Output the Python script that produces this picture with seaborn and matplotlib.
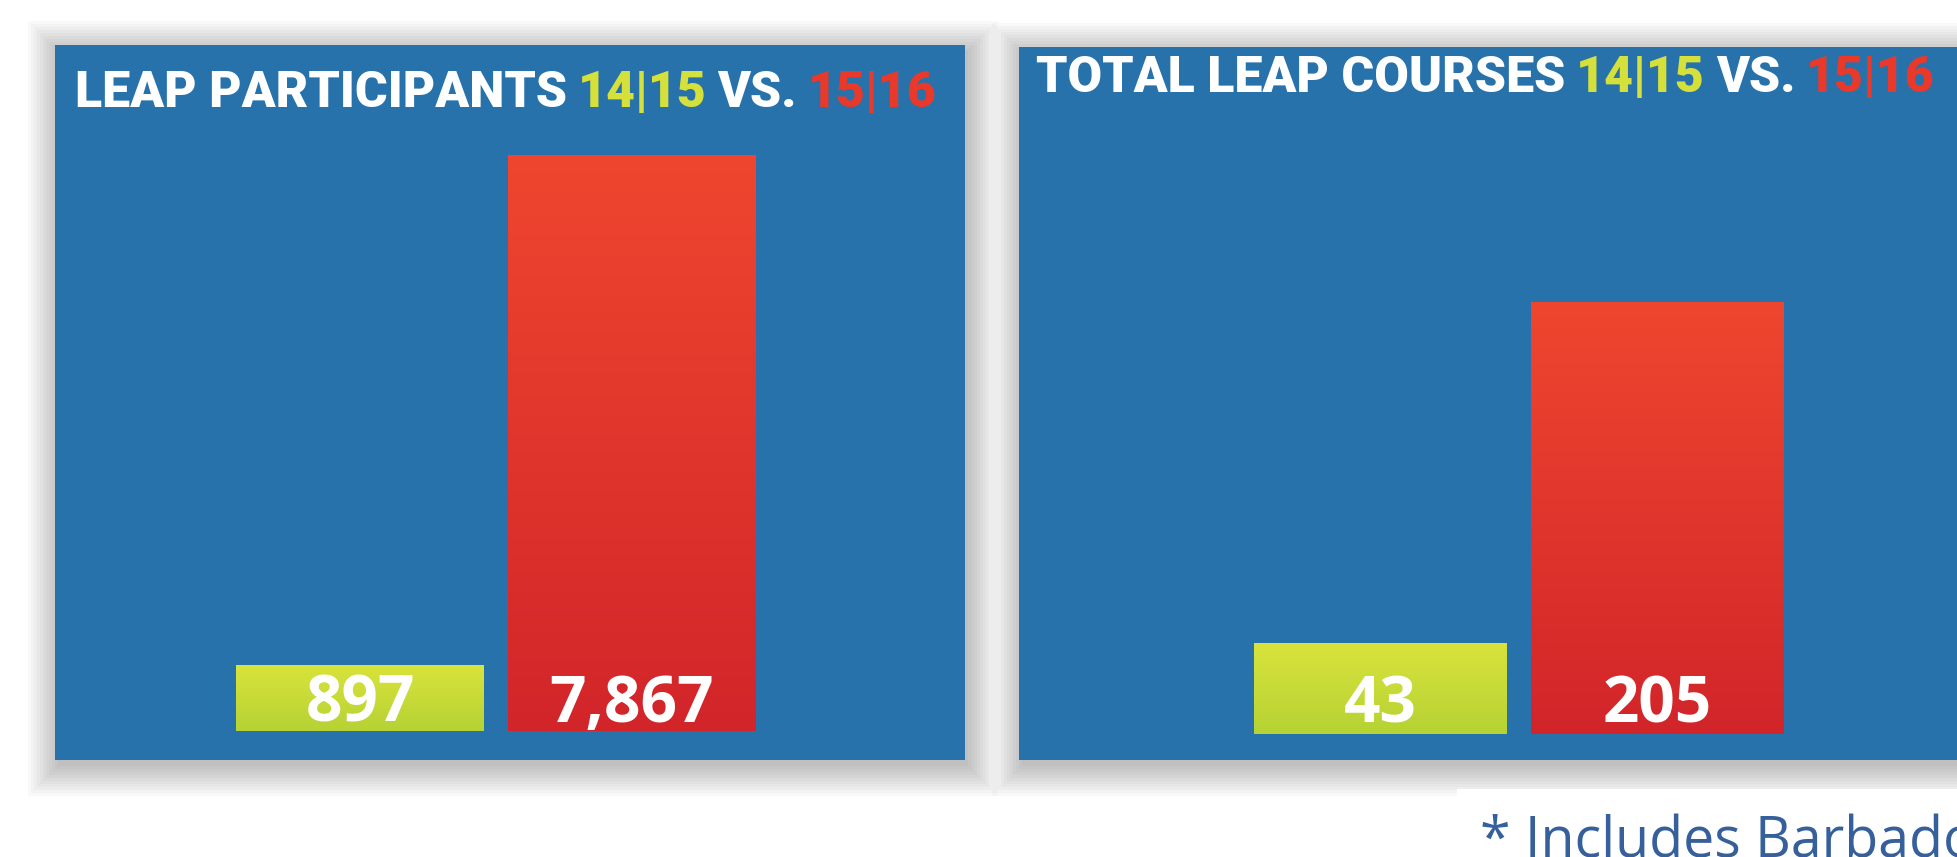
import numpy as np
import pandas as pd
import matplotlib
matplotlib.use('Agg')
import matplotlib.pyplot as plt
import seaborn as sns
from matplotlib.patches import Rectangle
from matplotlib.colors import LinearSegmentedColormap

# data
seasons = ['14|15', '15|16']
participants = [897, 7867]
courses = [43, 205]
participant_labels = ['897', '7,867']
course_labels = ['43', '205']

BLUE = '#2772ab'
GREEN_TOP, GREEN_BOT = '#d9e33c', '#b6d234'
RED_TOP, RED_BOT = '#ef462f', '#d2252a'
TITLE_GREEN = '#d5e03b'
TITLE_RED = '#e8392b'

W, H = 1958, 857
sns.set_style('white')
fig = plt.figure(figsize=(W / 100, H / 100), dpi=100)
fig.patch.set_facecolor('white')


def px_rect(x0, y0, x1, y1):
    return [x0 / W, 1 - y1 / H, (x1 - x0) / W, (y1 - y0) / H]


# soft drop shadows behind the two panels
for (x0, y0, x1, y1) in [(55, 45, 965, 760), (1019, 47, 1990, 760)]:
    for k in range(11):
        g = 3 * k
        fig.patches.append(Rectangle(((x0 + 3 - g) / W, 1 - (y1 + 6 + g) / H),
                                     (x1 - x0 + 2 * g) / W, (y1 - y0 + 2 * g) / H,
                                     transform=fig.transFigure, facecolor='black',
                                     edgecolor='none', alpha=0.024, zorder=-5))

ax1 = fig.add_axes(px_rect(55, 45, 965, 760))
ax2 = fig.add_axes(px_rect(1019, 47, 1990, 760))

panels = [
    (ax1, participants, participant_labels, 272, 305, 910, 715, 29, 576, 6.5),
    (ax2, courses, course_labels, 277, 361, 971, 713, 26, 432, 8.6),
]

grad = np.linspace(0, 1, 256).reshape(-1, 1)
cmaps = [LinearSegmentedColormap.from_list('g', [GREEN_BOT, GREEN_TOP]),
         LinearSegmentedColormap.from_list('r', [RED_BOT, RED_TOP])]

for ax, vals, labels, unit, c0, aw, ah, base, top_px, lift in panels:
    df = pd.DataFrame({'season': seasons, 'value': vals})
    sns.barplot(data=df, x='season', y='value', hue='season',
                palette=[GREEN_BOT, RED_BOT], width=0.91, legend=False,
                ax=ax, saturation=1, linewidth=0)
    ax.set_facecolor(BLUE)
    for s in ax.spines.values():
        s.set_visible(False)
    ax.set_xticks([])
    ax.set_yticks([])
    ax.set_xlabel('')
    ax.set_ylabel('')

    # bar gradients
    for p, cm in zip(ax.patches, cmaps):
        x0, y0 = p.get_xy()
        w, h = p.get_width(), p.get_height()
        im = ax.imshow(grad, extent=(x0, x0 + w, y0, y0 + h), origin='lower',
                       cmap=cm, aspect='auto', zorder=p.get_zorder() + 0.1)
        im.set_clip_path(p)

    per_px = max(vals) / top_px
    ax.set_xlim(-c0 / unit, (aw - c0) / unit)
    ax.set_ylim(-base * per_px, (ah - base) * per_px)

    for i, lbl in enumerate(labels):
        ax.annotate(lbl, xy=(i, 0), xytext=(0, lift), textcoords='offset points',
                    ha='center', va='baseline', fontsize=46, fontweight='bold',
                    family='Open Sans', color='white', zorder=5)

# titles made of coloured pieces
renderer = fig.canvas.get_renderer()


def draw_title(x_px, y_px, parts, size):
    x = x_px
    for s, c in parts:
        t = fig.text(x / W, 1 - y_px / H, s, color=c, fontsize=size,
                     family='Roboto', fontweight='black', va='top', ha='left',
                     zorder=10)
        bb = t.get_window_extent(renderer)
        x += bb.width + size * 0.3


draw_title(75, 70, [('LEAP PARTICIPANTS', 'white'), ('14|15', TITLE_GREEN),
                    ('VS.', 'white'), ('15|16', TITLE_RED)], 36)
draw_title(1036, 55, [('TOTAL LEAP COURSES', 'white'), ('14|15', TITLE_GREEN),
                      ('VS.', 'white'), ('15|16', TITLE_RED)], 36)

# footnote box
fig.patches.append(Rectangle((1457 / W, 0), (W - 1457) / W, (H - 789) / H,
                             transform=fig.transFigure, facecolor='white',
                             edgecolor='none', zorder=-1))
fig.text(1480 / W, 1 - 858 / H, '* Includes Barbados', color='#36609b',
         fontsize=40, family='Open Sans', va='baseline', ha='left')

fig.savefig('out.png', dpi=100)
